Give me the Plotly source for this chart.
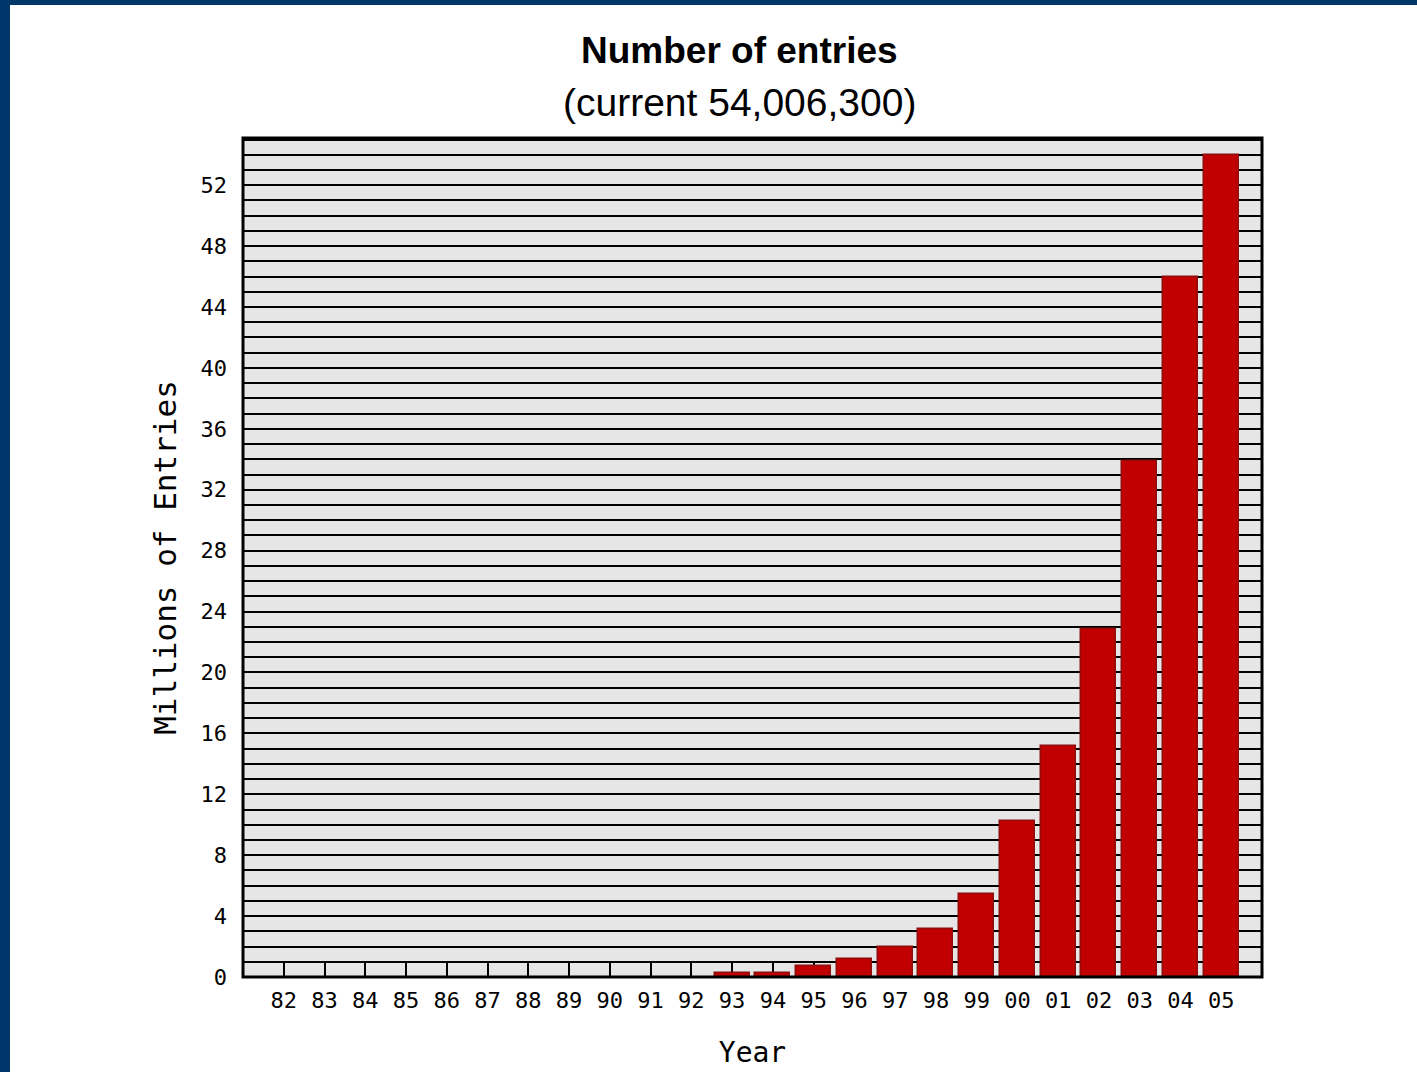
import plotly.graph_objects as go

years = [1982, 1983, 1984, 1985, 1986, 1987, 1988, 1989, 1990, 1991, 1992, 1993,
         1994, 1995, 1996, 1997, 1998, 1999, 2000, 2001, 2002, 2003, 2004, 2005]
year_labels = ["82", "83", "84", "85", "86", "87", "88", "89", "90", "91", "92", "93",
               "94", "95", "96", "97", "98", "99", "00", "01", "02", "03", "04", "05"]
entries_millions = [0, 0, 0, 0, 0, 0, 0, 0, 0, 0, 0, 0.24,
                    0.27, 0.72, 1.15, 2.0, 3.12, 5.45, 10.25, 15.18, 22.85, 33.9, 45.95, 54.006]
y_tick_vals = [0, 4, 8, 12, 16, 20, 24, 28, 32, 36, 40, 44, 48, 52]

title_text = "Number of entries"
subtitle_text = "(current 54,006,300)"

mono = "DejaVu Sans Mono"
x_range = [1981.0, 2006.0]

edge_widths = [0 if v == 0 else 1.5 for v in entries_millions]

fig = go.Figure()
fig.add_trace(go.Bar(
    x=years,
    y=entries_millions,
    width=0.86,
    marker=dict(color="#C00000", line=dict(color="#8E0E0E", width=edge_widths)),
    hoverinfo="x+y",
))

fig.update_layout(
    width=1417,
    height=1072,
    margin=dict(l=243, r=155, t=138, b=95),
    paper_bgcolor="white",
    plot_bgcolor="#E6E6E6",
    showlegend=False,
    bargap=0,
    font=dict(family=mono, color="black"),
    xaxis=dict(
        range=x_range,
        automargin=False,
        tickmode="array",
        tickvals=years,
        ticktext=year_labels,
        ticks="inside",
        ticklen=16,
        tickwidth=2,
        tickcolor="black",
        layer="below traces",
        showgrid=False,
        zeroline=False,
        showline=False,
        tickfont=dict(family=mono, size=22, color="black"),
        ticklabelstandoff=8,
        title=dict(text="Year", font=dict(family=mono, size=28, color="black"), standoff=30),
    ),
    yaxis=dict(
        range=[0, 55.1],
        automargin=False,
        tickmode="array",
        tickvals=y_tick_vals,
        ticks="",
        showgrid=True,
        gridcolor="black",
        gridwidth=2,
        minor=dict(dtick=1, tick0=0, showgrid=True, gridcolor="black", gridwidth=2),
        zeroline=False,
        showline=False,
        tickfont=dict(family=mono, size=22, color="black"),
        ticklabelstandoff=15,
        title=dict(text="Millions of Entries", font=dict(family=mono, size=31, color="black"), standoff=14),
    ),
    annotations=[
        dict(text="<b>" + title_text + "</b>", xref="paper", yref="paper", x=0.5, y=1,
             xanchor="center", yanchor="middle", xshift=-13, yshift=88, showarrow=False,
             font=dict(family="Liberation Sans", size=37, color="black")),
        dict(text=subtitle_text, xref="paper", yref="paper", x=0.5, y=1,
             xanchor="center", yanchor="middle", xshift=-13, yshift=36, showarrow=False,
             font=dict(family="Liberation Sans", size=39, color="black")),
    ],
    shapes=[
        # plot frame
        dict(type="rect", xref="paper", yref="paper", x0=0, x1=1, y0=0, y1=1,
             line=dict(color="black", width=3), fillcolor="rgba(0,0,0,0)", layer="above"),
        # page border strips
        dict(type="rect", xref="paper", yref="paper", xsizemode="pixel", ysizemode="pixel",
             xanchor=0, yanchor=1, x0=-243, x1=-233, y0=138, y1=-1000,
             fillcolor="#00376B", line=dict(width=0), layer="above"),
        dict(type="rect", xref="paper", yref="paper", xsizemode="pixel", ysizemode="pixel",
             xanchor=0, yanchor=1, x0=-243, x1=1300, y0=138, y1=133,
             fillcolor="#00376B", line=dict(width=0), layer="above"),
    ],
)

fig.write_html("out.html", config={"displayModeBar": False},
               post_script="document.body.style.margin='0';")
